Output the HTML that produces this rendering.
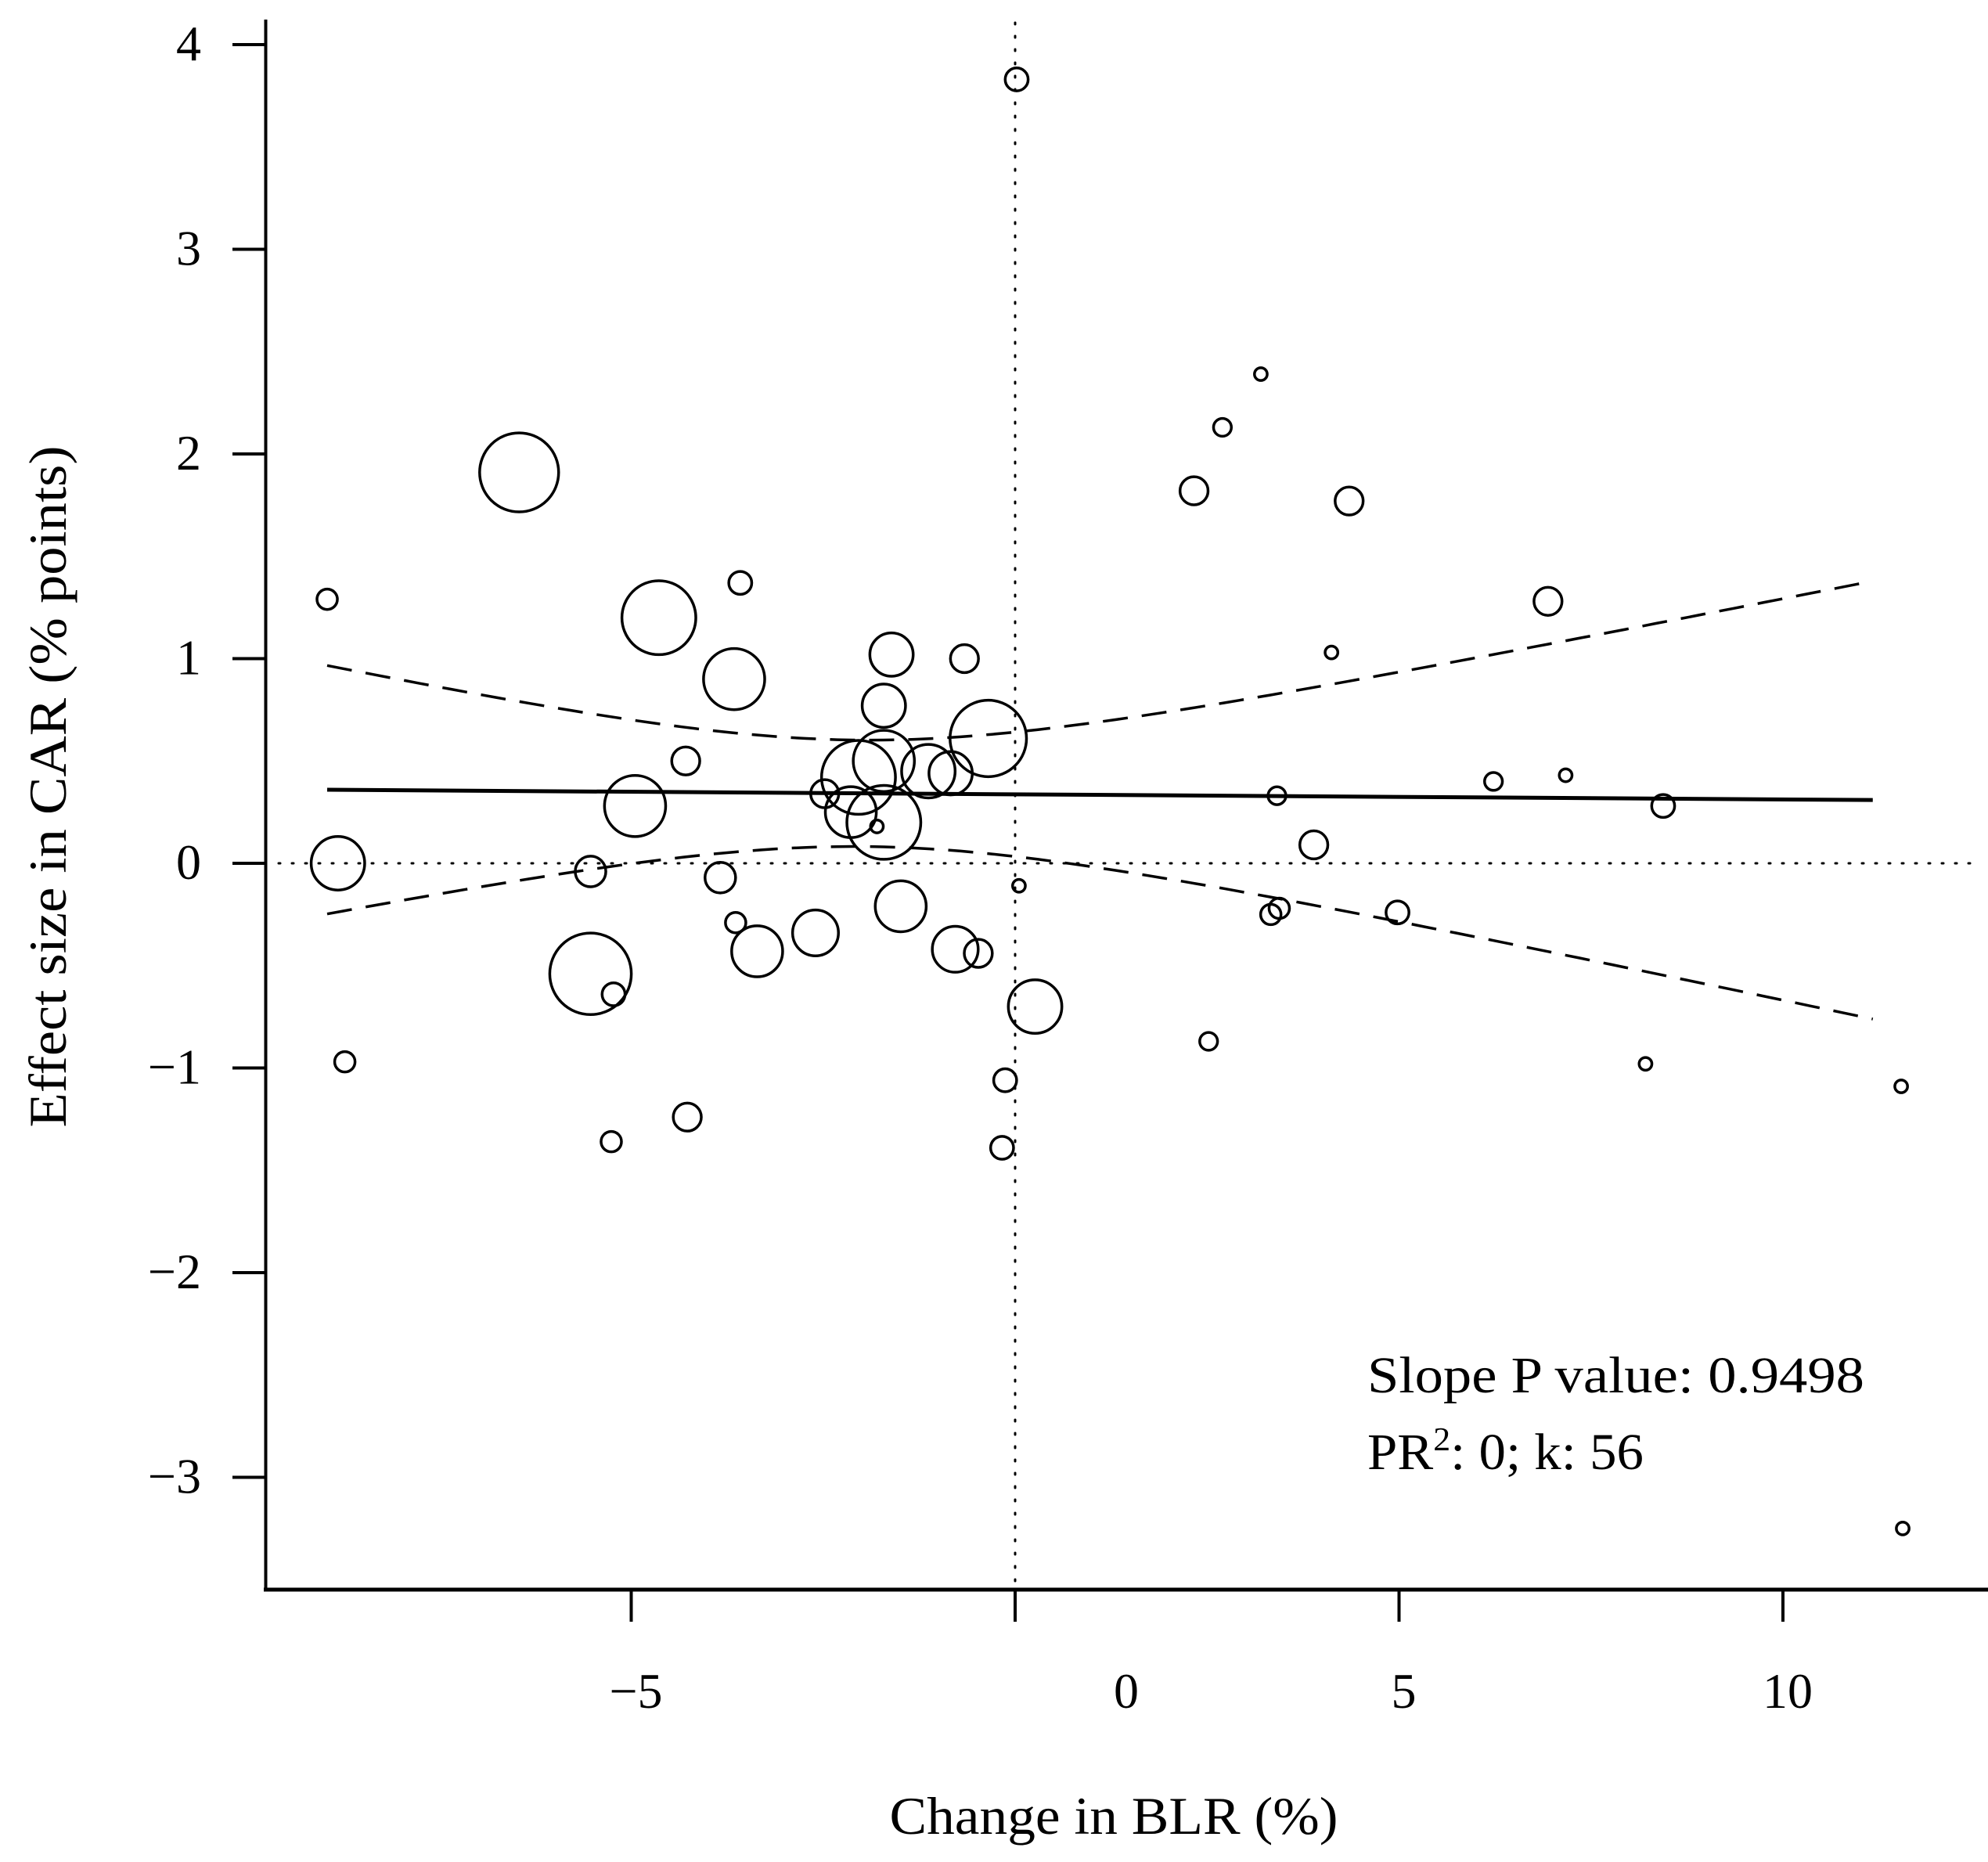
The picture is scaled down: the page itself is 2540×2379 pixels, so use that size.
<!DOCTYPE html>
<html><head><meta charset="utf-8"><style>
html,body{margin:0;padding:0;background:#fff;}
svg{display:block;font-family:"Liberation Serif",serif;}
</style></head><body>
<svg id="chart" width="2540" height="2379" viewBox="0 0 2540 2379">
<g id="axes"></g>
<g id="marks"></g>
<text x="1747" y="1779" font-size="66" textLength="635" lengthAdjust="spacingAndGlyphs">Slope P value: 0.9498</text>
<text x="1747" y="1877" font-size="66" textLength="353" lengthAdjust="spacingAndGlyphs">PR<tspan font-size="42" dy="-24">2</tspan><tspan dy="24">: 0; k: 56</tspan></text>
<text x="1423" y="2343" font-size="68" text-anchor="middle" textLength="573" lengthAdjust="spacingAndGlyphs">Change in BLR (%)</text>
<text transform="translate(84,1005) rotate(-90)" font-size="68" text-anchor="middle" textLength="871" lengthAdjust="spacingAndGlyphs">Effect size in CAR (% points)</text>
</svg>
<script>
const xs = [0.02,3.2,2.7,2.33,4.35,-6.46,-8.96,-3.58,-4.64,6.94,4.12,-3.66,-1.61,-0.66,-1.71,-0.35,-4.29,-1.71,-1.13,-0.84,-2.04,-2.48,-2.14,-1.71,-1.80,-4.95,6.23,7.17,3.41,8.44,3.89,-8.82,-5.53,-3.84,0.05,-3.64,3.33,3.44,4.98,-2.60,-1.49,-0.78,-0.48,-3.36,-5.53,-5.23,0.26,-8.73,2.52,-0.13,-4.27,8.21,11.54,-5.26,-0.17,11.56];
const ys = [3.83,2.39,2.13,1.82,1.77,1.91,1.29,1.37,1.20,1.28,1.03,0.90,1.02,1.00,0.77,0.61,0.50,0.50,0.45,0.44,0.42,0.34,0.25,0.20,0.18,0.28,0.40,0.43,0.33,0.28,0.09,0.0,-0.04,-0.07,-0.11,-0.29,-0.25,-0.22,-0.24,-0.34,-0.21,-0.42,-0.44,-0.43,-0.54,-0.64,-0.70,-0.97,-0.87,-1.06,-1.24,-0.98,-1.09,-1.36,-1.39,-3.25];
const weights = [9,5,7,11,11,31,8,9,29,11,5,24,17,11,17,30,11,24,21,17,29,11,20,29,5,24,7,5,7,9,11,21,12,12,5,8,8,8,9,18,20,18,11,20,32,9,21,8,7,9,11,5,5,8,9,5];
const xTicks = [-5,0,5,10];
const xTickLabels = ["\u22125","0","5","10"];
const yTicks = [-3,-2,-1,0,1,2,3,4];
const yTickLabels = ["\u22123","\u22122","\u22121","0","1","2","3","4"];
const fitIntercept = [0.337];
const fitSlope = [-0.0025];
const ciParams = [-2, 0.0676, 0.00621];
const fitRange = [-8.96, 11.17];

const NS="http://www.w3.org/2000/svg";
const X = v => 1297 + v*98.1;
const Y = v => 1103 - v*261.5;
function mk(tag, attrs, parent){const e=document.createElementNS(NS,tag);for(const k in attrs)e.setAttribute(k,attrs[k]);parent.appendChild(e);return e;}
const axes=document.getElementById('axes'), marks=document.getElementById('marks');

let e;
e=mk('line',{x1:339.5,y1:25,x2:339.5,y2:2033,stroke:'#000','stroke-width':4},axes);


e=mk('line',{x1:337,y1:2031,x2:2540,y2:2031,stroke:'#000','stroke-width':5},axes);


xTicks.forEach((t,i)=>{
  const l=mk('line',{x1:X(t),y1:2031,x2:X(t),y2:2072,stroke:'#000','stroke-width':4},axes);
  
  
  const lx = t===0 ? X(t)+142 : X(t)+6;
  const tx=mk('text',{x:lx,y:2182,'font-size':64,'text-anchor':'middle'},axes);
  tx.textContent=xTickLabels[i];
  
  
});
yTicks.forEach((t,i)=>{
  const l=mk('line',{x1:297,y1:Y(t),x2:339,y2:Y(t),stroke:'#000','stroke-width':4},axes);
  
  
  const tx=mk('text',{x:257,y:Y(t)+20,'font-size':64,'text-anchor':'end'},axes);
  tx.textContent=yTickLabels[i];
  
  
});
e=mk('line',{x1:356,y1:Y(0),x2:2525,y2:Y(0),stroke:'#000','stroke-width':3,'stroke-dasharray':'2 15','stroke-linecap':'round'},marks);


e=mk('line',{x1:X(0),y1:29,x2:X(0),y2:2028,stroke:'#000','stroke-width':3,'stroke-dasharray':'2 15','stroke-linecap':'round'},marks);



const fit = x => fitIntercept[0] + fitSlope[0]*x;
const hw = x => Math.sqrt(ciParams[1] + ciParams[2]*(x-ciParams[0])**2);
let up='', lo='';
for(let i=0;i<=100;i++){
  const x=fitRange[0]+(fitRange[1]-fitRange[0])*i/100;
  up+=(i?'L':'M')+X(x).toFixed(1)+','+Y(fit(x)+hw(x)).toFixed(1);
  lo+=(i?'L':'M')+X(x).toFixed(1)+','+Y(fit(x)-hw(x)).toFixed(1);
}
e=mk('path',{d:up,fill:'none',stroke:'#000','stroke-width':3.5,'stroke-dasharray':'32 18'},marks);


e=mk('path',{d:lo,fill:'none',stroke:'#000','stroke-width':3.5,'stroke-dasharray':'32 18'},marks);


e=mk('line',{x1:X(fitRange[0]),y1:Y(fit(fitRange[0])),x2:X(fitRange[1]),y2:Y(fit(fitRange[1])),stroke:'#000','stroke-width':5},marks);



xs.forEach((x,i)=>{
  const c=mk('circle',{cx:X(x),cy:Y(ys[i]),r:weights[i]*1.628,fill:'none',stroke:'#000','stroke-width':3.5},marks);
  
  
});
</script>
</body></html>
